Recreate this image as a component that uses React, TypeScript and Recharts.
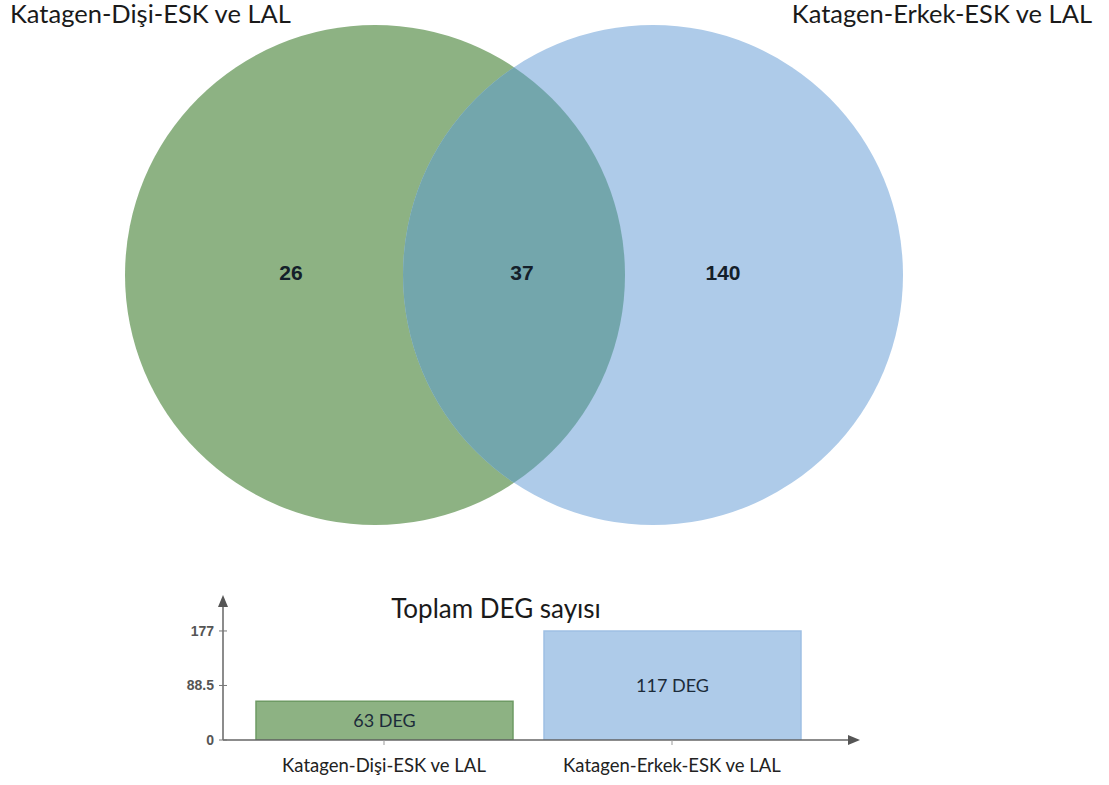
import {
    ScatterChart,
    Scatter,
    BarChart,
    Bar,
    Cell,
    LabelList,
    XAxis,
    YAxis,
} from "recharts";

// Venn: set names and counts (only left, shared, only right)
const vennSets = ["Katagen-Dişi-ESK ve LAL", "Katagen-Erkek-ESK ve LAL"];
const vennCounts = [26, 37, 140];

// Bar chart below the Venn
const barCategories = ["Katagen-Dişi-ESK ve LAL", "Katagen-Erkek-ESK ve LAL"];
const barValues = [63, 177];
const barLabels = ["63 DEG", "117 DEG"];
const yTicks = [0, 88.5, 177];

const GREEN = "#8db283";
const BLUE = "#aecbe9";
const OVERLAP = "#73a6ac";

// venn layout, circle radius = 1 unit
const VENN_W = 1109;
const VENN_H = 560;
const X_DOMAIN: [number, number] = [-2.056, 2.38];
const Y_DOMAIN: [number, number] = [-1.14, 1.1];
const PX_PER_UNIT = VENN_W / (X_DOMAIN[1] - X_DOMAIN[0]);
const R_PX = 1 * PX_PER_UNIT;
const CENTER_OFFSET = 0.556;
const LABEL_X = [-0.892, 0.032, 0.836];

const leftCircle = [{ x: -CENTER_OFFSET, y: 0 }];
const rightCircle = [{ x: CENTER_OFFSET, y: 0 }];
const countPoints = vennCounts.map((v, i) => ({ x: LABEL_X[i], y: 0.008, v }));

const barData = barCategories.map((name, i) => ({
    name,
    value: barValues[i],
    label: barLabels[i],
}));

const GreenShape = (p: any) => <circle cx={p.cx} cy={p.cy} r={R_PX} fill={GREEN} />;

const BlueShape = (p: any) => (
    <g>
        <defs>
            <clipPath id="blueClip">
                <circle cx={p.cx} cy={p.cy} r={R_PX} />
            </clipPath>
        </defs>
        <circle cx={p.cx} cy={p.cy} r={R_PX} fill={BLUE} />
    </g>
);

// green circle again, clipped by the blue one -> lens
const OverlapShape = (p: any) => (
    <circle cx={p.cx} cy={p.cy} r={R_PX} fill={OVERLAP} clipPath="url(#blueClip)" />
);

const CountShape = (p: any) => (
    <text
        x={p.cx}
        y={p.cy}
        dy="0.35em"
        textAnchor="middle"
        fontFamily="Liberation Sans, Arial, sans-serif"
        fontWeight="bold"
        fontSize={21}
        fill="#14202a"
    >
        {p.payload.v}
    </text>
);

const YTick = ({ x, y, payload }: any) => (
    <g>
        <line x1={x - 4} x2={x + 4} y1={y} y2={y} stroke="#777" />
        <text
            x={x - 9}
            y={y}
            dy="0.35em"
            textAnchor="end"
            fontFamily="Liberation Sans, Arial, sans-serif"
            fontWeight="bold"
            fontSize={14}
            fill="#555"
        >
            {payload.value}
        </text>
    </g>
);

export default function App() {
    return (
        <div
            style={{
                position: "absolute",
                left: 0,
                top: 0,
                width: 1109,
                height: 785,
                background: "#fff",
                fontFamily: "Lato, sans-serif",
                color: "#1a1a1a",
            }}
        >
            {/* arrow heads for the bar chart axes */}
            <svg width={0} height={0} style={{ position: "absolute" }}>
                <defs>
                    <marker
                        id="axisArrow"
                        markerWidth={12}
                        markerHeight={10}
                        refX={5}
                        refY={5}
                        orient="auto-start-reverse"
                        markerUnits="userSpaceOnUse"
                    >
                        <path d="M0,0 L12,5 L0,10 z" fill="#555" />
                    </marker>
                </defs>
            </svg>

            <div style={{ position: "absolute", left: 0, top: 0 }}>
                <ScatterChart width={VENN_W} height={VENN_H} margin={{ top: 0, right: 0, bottom: 0, left: 0 }}>
                    <XAxis type="number" dataKey="x" domain={X_DOMAIN} allowDataOverflow hide />
                    <YAxis type="number" dataKey="y" domain={Y_DOMAIN} allowDataOverflow hide />
                    <Scatter data={leftCircle} shape={GreenShape} isAnimationActive={false} />
                    <Scatter data={rightCircle} shape={BlueShape} isAnimationActive={false} />
                    <Scatter data={leftCircle} shape={OverlapShape} isAnimationActive={false} />
                    <Scatter data={countPoints} shape={CountShape} isAnimationActive={false} />
                </ScatterChart>
            </div>

            <div style={{ position: "absolute", left: 10, top: -2, fontSize: 25.5, lineHeight: "30px" }}>
                {vennSets[0]}
            </div>
            <div style={{ position: "absolute", right: 17, top: -2, fontSize: 25.5, lineHeight: "30px" }}>
                {vennSets[1]}
            </div>

            <div style={{ position: "absolute", left: 0, top: 560 }}>
                <BarChart
                    width={1109}
                    height={225}
                    data={barData}
                    margin={{ top: 42, right: 256, bottom: 15, left: 163 }}
                >
                    <XAxis
                        dataKey="name"
                        height={30}
                        padding={{ left: 17, right: 37 }}
                        interval={0}
                        tickSize={5}
                        tickMargin={14}
                        axisLine={{ stroke: "#666", strokeWidth: 1.5, markerEnd: "url(#axisArrow)" }}
                        tickLine={{ stroke: "#999" }}
                        tick={{ fill: "#222", fontSize: 18.5, fontFamily: "Lato" }}
                    />
                    <YAxis
                        width={60}
                        domain={[0, 224]}
                        ticks={yTicks}
                        allowDataOverflow
                        tickLine={false}
                        tickSize={0}
                        tickMargin={0}
                        axisLine={{ stroke: "#666", strokeWidth: 1.5, markerStart: "url(#axisArrow)" }}
                        tick={<YTick />}
                    />
                    <Bar dataKey="value" barSize={257} isAnimationActive={false}>
                        {barData.map((d, i) => (
                            <Cell
                                key={d.name}
                                fill={i === 0 ? GREEN : BLUE}
                                stroke={i === 0 ? "#6e9a64" : "#9fc0e4"}
                                strokeWidth={1.5}
                            />
                        ))}
                        <LabelList
                            dataKey="label"
                            position="center"
                            fill="#1c2b3a"
                            fontSize={18}
                            fontFamily="Lato"
                        />
                    </Bar>
                </BarChart>
            </div>

            <div
                style={{
                    position: "absolute",
                    left: 346,
                    width: 300,
                    top: 593,
                    textAlign: "center",
                    fontSize: 26,
                    lineHeight: "30px",
                }}
            >
                Toplam DEG sayısı
            </div>
        </div>
    );
}
